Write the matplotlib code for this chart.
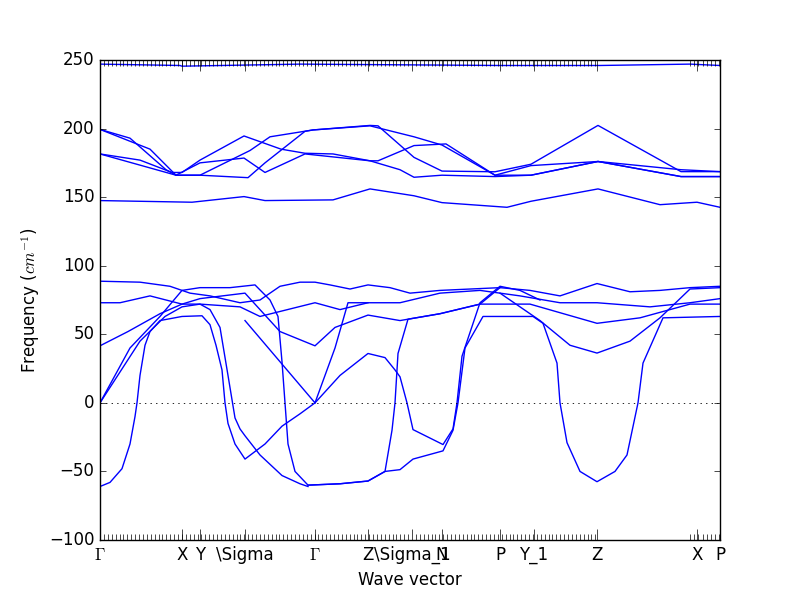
import numpy as np
import matplotlib
matplotlib.use("Agg")
import matplotlib.pyplot as plt

plt.style.use('classic')

# high-symmetry labels and positions (path coordinate)
tick_pos = [100, 182, 200, 245, 315, 368, 412, 442, 500, 534, 597, 697, 720]
tick_lab = [r'$\Gamma$', 'X', 'Y', '\\Sigma', r'$\Gamma$', 'Z', '\\Sigma_1', 'N', 'P', 'Y_1', 'Z', 'X', 'P']

hi_x = [100, 180, 182, 300, 400, 500, 600, 690, 720]
hi_y = [247, 246, 245.5, 247, 246.5, 246, 246, 247, 246]

up1_x = [100, 130, 166, 176, 200, 248, 265, 305, 313, 370, 378, 414, 442, 495, 531, 598, 681, 720]
up1_y = [199.4, 193, 170, 166, 166, 164.2, 175, 198, 199, 202.3, 202, 179, 169, 168.5, 174, 202.3, 168.6, 168.6]
up2_x = [100, 140, 172, 182, 200, 244, 281, 305, 333, 370, 378, 414, 446, 495, 531, 598, 681, 720]
up2_y = [181.5, 177, 168, 168, 177, 194.6, 185, 182, 181.5, 176.5, 176.5, 187.6, 188.8, 166, 173, 176, 165, 165]
up3_x = [100, 176, 200, 244, 265, 305, 370, 400, 414, 442, 495, 531, 598, 681, 720]
up3_y = [181.5, 166, 175, 178.5, 168, 181.5, 176.5, 170, 164.5, 166, 165, 166, 176, 170, 168.6]
up4_x = [100, 150, 176, 200, 250, 270, 313, 370, 414, 442, 495, 531, 598, 681, 720]
up4_y = [199.4, 185, 166, 166, 184, 194, 199, 202, 194, 188, 166, 166, 176, 165, 165]

b148_x = [100, 192, 244, 265, 333, 370, 414, 442, 507, 531, 598, 660, 697, 720]
b148_y = [147.5, 146.3, 150.4, 147.5, 148, 156, 151, 146, 142.6, 147, 156, 144.5, 146.3, 142.6]

l88_x = [100, 140, 170, 190, 210, 240, 260, 280, 300, 315, 330, 350, 368, 390, 410, 440, 470, 500, 530, 560, 597, 630, 660, 690, 720]
l88_y = [88.7, 88, 85, 80, 78, 73, 75, 85, 88, 88, 86, 83, 86, 84, 80, 82, 83, 84, 82, 78, 87, 81, 82, 84, 85]
l73_x = [100, 120, 150, 182, 200, 240, 260, 315, 340, 368, 400, 440, 480, 520, 560, 597, 650, 690, 720]
l73_y = [73, 73, 78, 72, 72, 70, 63, 73, 68, 73, 73, 80, 82, 78, 73, 73, 70, 73, 76]
l41_x = [100, 128, 160, 182, 200, 245, 280, 315, 335, 368, 400, 440, 480, 530, 597, 640, 690, 720]
l41_y = [41.6, 52, 65, 72, 76, 80, 52, 41.6, 55, 64, 60, 65, 72, 72, 58, 62, 72, 72]

d1_x = [100, 110, 122, 130, 135, 137, 140, 145, 150, 160, 182, 202, 210, 216, 222, 225, 228, 235, 245, 265, 282, 300, 315]
d1_y = [-61, -58, -48, -30, -10, 0, 20, 42, 52, 60, 63, 63.5, 57, 42, 24, 0, -15, -30, -41, -30, -17, -8, 0]
d2_x = [100, 140, 165, 182, 200, 210, 220, 228, 235, 240, 245, 260, 282, 300, 308]
d2_y = [0, 45, 63, 70, 72, 68, 55, 20, -11, -19, -24, -38, -53, -59, -61]
d3_x = [100, 130, 160, 182, 200, 230, 255, 270, 278, 282, 285, 288, 295, 308, 340, 368, 385, 392, 395, 398, 408, 440, 480, 500]
d3_y = [0, 40, 63, 82, 84, 84, 86, 75, 63, 30, 0, -30, -50, -60, -59, -57, -50, -20, 0, 36, 61, 65, 72, 84]
d4_x = [315, 340, 368, 385, 395, 400, 407, 413, 443, 453, 457, 462, 480, 500, 520, 540]
d4_y = [0, 20, 36, 33, 24, 19, 0, -19.5, -30.4, -19, 0, 34, 73, 85, 82, 75]
d5_x = [308, 340, 368, 385, 400, 413, 443, 453, 458, 465, 483, 533, 543, 557, 560, 567, 580, 597, 615, 627, 638, 643, 663, 720]
d5_y = [-60, -59, -57, -50, -48.7, -41, -35, -20, 0, 40, 63, 63, 58, 29, 0, -29, -50, -57.5, -50, -38, 0, 29, 62, 63]
s1_x = [245, 280, 315, 335, 348, 368]
s1_y = [60, 30, 0, 40, 73, 73]
z36_x = [500, 540, 570, 597, 630, 660, 690, 720]
z36_y = [80, 60, 42, 36.3, 45, 62, 83, 84]

bands = [(hi_x, hi_y), (up1_x, up1_y), (up2_x, up2_y), (up3_x, up3_y), (up4_x, up4_y),
         (b148_x, b148_y), (l88_x, l88_y), (l73_x, l73_y), (l41_x, l41_y),
         (d1_x, d1_y), (d2_x, d2_y), (d3_x, d3_y), (d4_x, d4_y), (d5_x, d5_y),
         (s1_x, s1_y), (z36_x, z36_y)]

fig = plt.figure(figsize=(8, 6), dpi=100)
ax = fig.add_axes([0.125, 0.1, 0.775, 0.8])
for bx, by in bands:
    ax.plot(bx, by, color='b', lw=1)
ax.axhline(0, color='k', ls=':', lw=0.6)
ax.set_xlim(100, 720)
ax.set_ylim(-100, 250)
qpts = np.concatenate([np.arange(100, 598, 3.9), np.arange(690, 721, 4.2)])
ax.set_xticks(qpts, minor=True)
ax.set_xticks(tick_pos)
ax.set_xticklabels(tick_lab)
ax.tick_params(axis='x', which='minor', length=4)
ax.tick_params(axis='x', which='major', length=8)
ax.set_xlabel('Wave vector')
ax.set_ylabel(r'Frequency ($cm^{-1}$)')
fig.savefig('out.png', dpi=100)
